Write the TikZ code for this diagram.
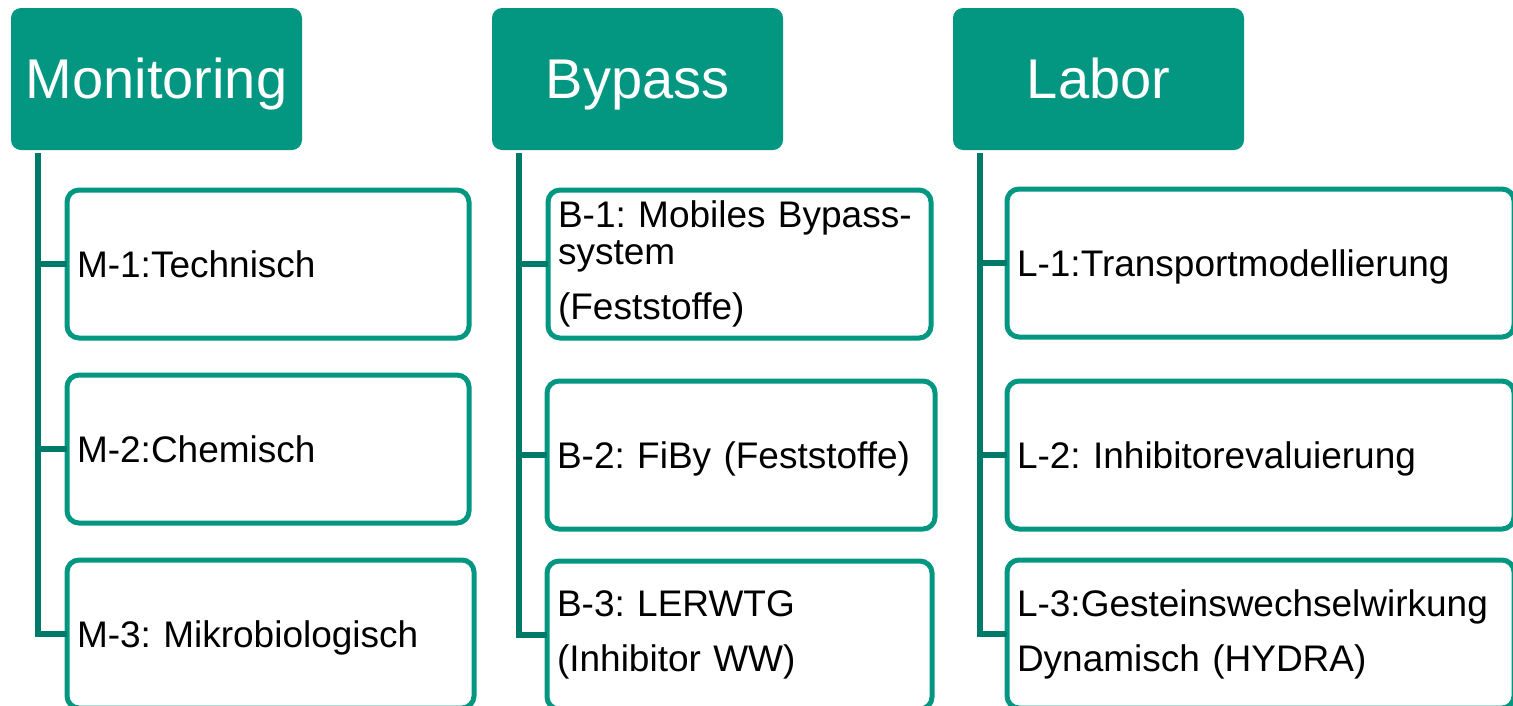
\documentclass[tikz,border=0pt]{standalone}
\usepackage{fontspec}
\setmainfont{Liberation Sans}
\frenchspacing
\definecolor{headteal}{RGB}{3,150,128}
\definecolor{linkteal}{RGB}{0,122,104}

\begin{document}
\begin{tikzpicture}[x=1pt, y=-1pt,
	head/.style={fill=headteal, rounded corners=10pt, text=white, anchor=north west,
		minimum width=291pt, minimum height=142pt, inner sep=0pt, outer sep=0pt,
		text height=40pt, text depth=2pt, font=\fontsize{56}{60}\selectfont},
	item/.style={draw=headteal, line width=5pt, rounded corners=12pt, anchor=north west,
		align=left, minimum height=148pt, inner xsep=10pt, inner ysep=0pt, outer sep=0pt,
		font=\fontsize{37}{37}\selectfont},
	single/.style={text depth=0pt},
	link/.style={draw=linkteal, line width=5.5pt}]

\useasboundingbox (0, 0) rectangle (1513, 705);

\node[head] (mon) at (11, 8) {Monitoring};
\node[head] (byp) at (492, 8) {Bypass};
\node[head] (lab) at (953, 8) {Labor};

\node[item, single, text width=382pt] (m1) at (67, 190) {M-1:Technisch};
\node[item, single, text width=382pt] (m2) at (67, 375) {M-2:Chemisch};
\node[item, single, text width=387pt] (m3) at (67, 560) {M-3: Mikrobiologisch};

\node[item, text width=363pt] (b1) at (548, 190) {B-1: Mobiles Bypass-\\system\\[18pt](Feststoffe)};
\node[item, single, text width=368pt] (b2) at (547, 381) {B-2: FiBy (Feststoffe)};
\node[item, text width=365pt] (b3) at (547, 561) {B-3: LERWTG\\[18pt](Inhibitor WW)};

\node[item, single, text width=487pt] (l1) at (1007, 189) {L-1:Transportmodellierung};
\node[item, single, text width=487pt] (l2) at (1007, 381) {L-2: Inhibitorevaluierung};
\node[item, text width=487pt] (l3) at (1007, 560) {L-3:Gesteinswechselwirkung\\[18pt]Dynamisch (HYDRA)};

\foreach \h/\c in {mon/m, byp/b, lab/l} {
	\coordinate (\c-top) at ([xshift=27pt, yshift=-3pt]\h.south west);
	\draw[link] (\c-top) |- (\c3.west);
	\foreach \i in {1, 2}
	\draw[link] (\c-top |- \c\i.west) -- (\c\i.west);
}

\end{tikzpicture}
\end{document}
